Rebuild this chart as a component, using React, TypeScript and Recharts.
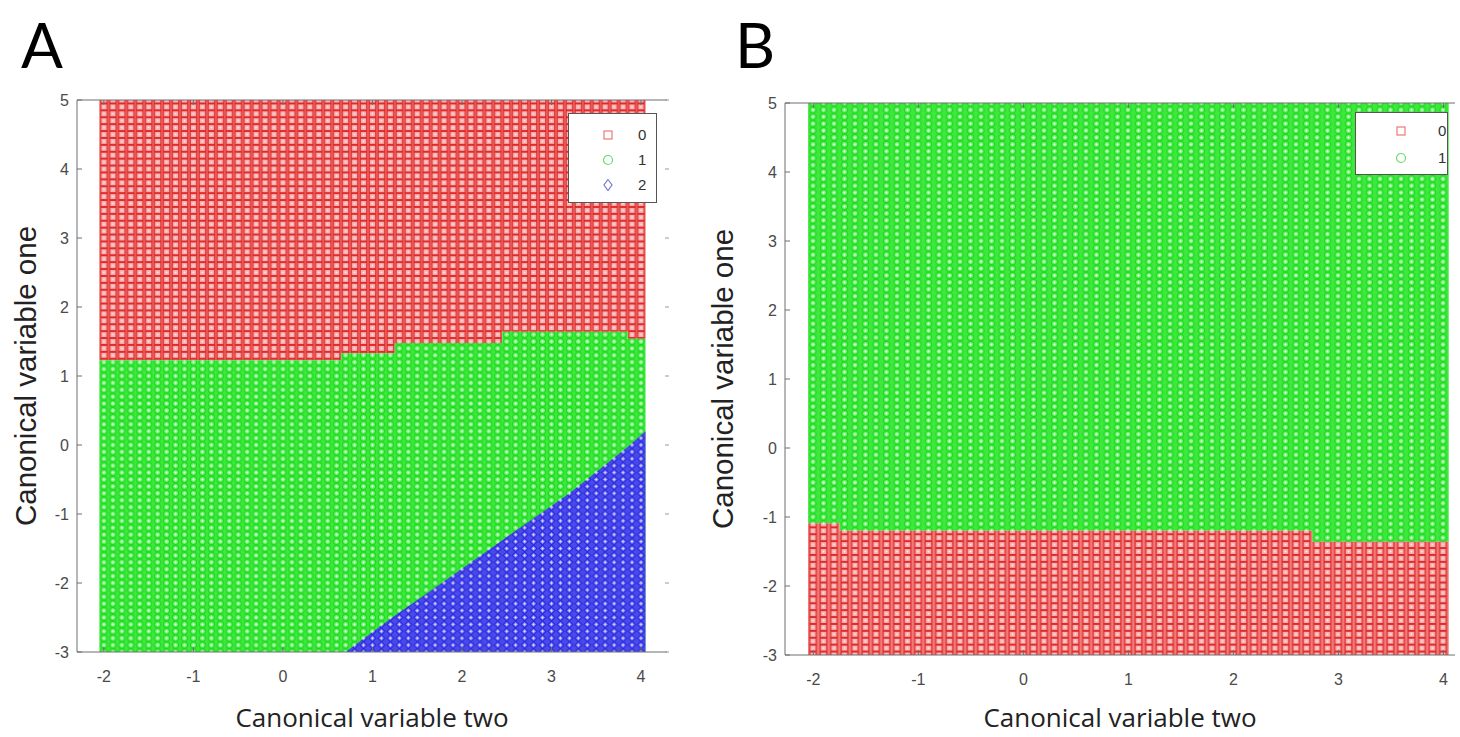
import { ComposedChart, Area, XAxis, YAxis, Legend } from "recharts";

const FONT = '"Liberation Sans", Arial, sans-serif';
const TITLE_FONT = '"Open Sans", Lato, sans-serif';
const AXIS = "#6e6e6e";
const TEXT = "#4a4a4a";

const X_TICKS = [-2, -1, 0, 1, 2, 3, 4];
const Y_TICKS = [-3, -2, -1, 0, 1, 2, 3, 4, 5];
const GRID_TOP = 5;
const GRID_BOTTOM = -3;

// panel A: class boundaries along canonical variable two
const A_X = [-2.05, 0.65, 0.7, 1.25, 1.5, 2.45, 3.2, 3.85, 4.05];
const A_EDGE_01 = [1.23, 1.33, 1.33, 1.48, 1.48, 1.64, 1.64, 1.54, 1.54];
const A_EDGE_12 = [null, null, -3.0, -2.47, -2.25, -1.38, -0.7, -0.03, 0.2];
const A_CLASSES = ["0", "1", "2"];

// panel B
const B_X = [-2.05, -1.75, 2.75, 4.05];
const B_EDGE_01 = [-1.09, -1.2, -1.36, -1.36];
const B_CLASSES = ["0", "1"];

const aRows = A_X.map((x, i) => ({
  x,
  zero: [A_EDGE_01[i], GRID_TOP],
  one: [GRID_BOTTOM, A_EDGE_01[i]],
  two: A_EDGE_12[i] === null ? null : [GRID_BOTTOM, A_EDGE_12[i]],
}));

const bRows = B_X.map((x, i) => ({
  x,
  zero: [GRID_BOTTOM, B_EDGE_01[i]],
  one: [B_EDGE_01[i], GRID_TOP],
}));

const TICK = 5;

function BottomTick({ x, y, payload }: any) {
  return (
    <g>
      <line x1={x} x2={x} y1={y} y2={y - TICK} stroke={AXIS} />
      <text x={x} y={y + 30} textAnchor="middle" fontSize={16} fontFamily={FONT} fill={TEXT}>
        {payload.value}
      </text>
    </g>
  );
}

function TopTick({ x, y }: any) {
  return <line x1={x} x2={x} y1={y} y2={y + TICK} stroke={AXIS} />;
}

function LeftTick({ x, y, payload }: any) {
  return (
    <g>
      <line x1={x} x2={x + TICK} y1={y} y2={y} stroke={AXIS} />
      <text x={x - 8} y={y + 6} textAnchor="end" fontSize={16} fontFamily={FONT} fill={TEXT}>
        {payload.value}
      </text>
    </g>
  );
}

function RightTick({ x, y }: any) {
  return <line x1={x - 2} x2={x + 2} y1={y} y2={y} stroke="#999" />;
}

function Marker({ kind }: { kind: number }) {
  if (kind === 0) return <rect x={2} y={2} width={8} height={8} fill="none" stroke="#e77" strokeWidth={1.2} />;
  if (kind === 1) return <circle cx={6} cy={6} r={4.5} fill="none" stroke="#6d6" strokeWidth={1.2} />;
  return <path d="M6 0.5 L10 6 L6 11.5 L2 6 Z" fill="none" stroke="#77d" strokeWidth={1.2} />;
}

function ClassKey({ labels, w, h, rowH, padTop, markX, textX }: any) {
  return (
    <div
      style={{
        position: "relative",
        width: w,
        height: h,
        boxSizing: "border-box",
        border: "1px solid #555",
        background: "#fff",
        fontFamily: FONT,
        fontSize: 15,
        color: "#333",
      }}
    >
      {labels.map((l: string, i: number) => (
        <div key={l} style={{ position: "absolute", left: 0, top: padTop + i * rowH, width: w, height: rowH }}>
          <svg width={12} height={12} style={{ position: "absolute", left: markX - 6, top: rowH / 2 - 6 }}>
            <Marker kind={i} />
          </svg>
          <span style={{ position: "absolute", left: textX - 5, top: rowH / 2 - 9, lineHeight: "18px" }}>{l}</span>
        </div>
      ))}
    </div>
  );
}

function Patterns({ id, cw, ch, ox, oy, three }: any) {
  const cx = cw / 2;
  const cy = ch / 2;
  return (
    <defs>
      <pattern id={`red${id}`} patternUnits="userSpaceOnUse" width={cw} height={ch} x={ox} y={oy}>
        <rect width={cw} height={ch} fill="#f07a7a" />
        <rect x={cx - 3.3} y={cy - 3.1} width={6.6} height={6.2} fill="#f8b0b0" stroke="#de2626" strokeWidth={1.2} />
        <rect x={cx - 0.8} y={cy - 0.8} width={1.6} height={1.6} fill="#fde8e8" />
      </pattern>
      <pattern id={`green${id}`} patternUnits="userSpaceOnUse" width={cw} height={ch} x={ox} y={oy}>
        <rect width={cw} height={ch} fill="#3ee83e" />
        <circle cx={cx} cy={cy} r={3.1} fill="#7cf07c" stroke="#1cdc1c" strokeWidth={1.3} />
        <circle cx={cx} cy={cy} r={1} fill="#e8ffe8" />
      </pattern>
      {three && (
        <pattern id={`blue${id}`} patternUnits="userSpaceOnUse" width={cw} height={ch} x={ox} y={oy}>
          <rect width={cw} height={ch} fill="#4a4aea" />
          <path
            d={`M${cx} ${cy - 3.4} L${cx + 3.4} ${cy} L${cx} ${cy + 3.4} L${cx - 3.4} ${cy} Z`}
            fill="#8c8cf2"
            stroke="#2626e2"
            strokeWidth={1.2}
          />
          <circle cx={cx} cy={cy} r={0.9} fill="#f0f0ff" />
        </pattern>
      )}
    </defs>
  );
}

const yTitle = (offset: number) => ({
  value: "Canonical variable one",
  angle: -90,
  position: "insideLeft" as const,
  offset,
  style: { textAnchor: "middle", fontSize: 29.5, fontFamily: FONT, fill: "#222" },
});

const xTitle = (offset: number) => ({
  value: "Canonical variable two",
  position: "insideBottom" as const,
  offset,
  style: { textAnchor: "middle", fontSize: 26, fontFamily: TITLE_FONT, fill: "#222" },
});

function PanelA() {
  return (
    <ComposedChart width={700} height={737} data={aRows} margin={{ top: 90, left: 27, right: 23, bottom: 0 }}>
      <Patterns id="A" cw={8.95} ch={6.9} ox={99.5} oy={648.55} three />
      <XAxis
        dataKey="x"
        type="number"
        domain={[-2.3, 4.29]}
        allowDataOverflow
        ticks={X_TICKS}
        height={85}
        tickSize={0}
        tickMargin={0}
        axisLine={{ stroke: AXIS }}
        tickLine={false}
        tick={<BottomTick />}
        label={xTitle(10)}
      />
      <XAxis
        xAxisId="top"
        orientation="top"
        dataKey="x"
        type="number"
        domain={[-2.3, 4.29]}
        allowDataOverflow
        ticks={X_TICKS}
        height={10}
        tickSize={0}
        tickMargin={0}
        axisLine={{ stroke: AXIS }}
        tickLine={false}
        tick={<TopTick />}
      />
      <YAxis
        type="number"
        domain={[GRID_BOTTOM, GRID_TOP]}
        allowDataOverflow
        ticks={Y_TICKS}
        width={50}
        tickSize={0}
        tickMargin={0}
        axisLine={{ stroke: AXIS }}
        tickLine={false}
        tick={<LeftTick />}
        label={yTitle(-1)}
      />
      <YAxis
        yAxisId="right"
        orientation="right"
        type="number"
        domain={[GRID_BOTTOM, GRID_TOP]}
        allowDataOverflow
        ticks={Y_TICKS}
        width={10}
        tickSize={0}
        tickMargin={0}
        axisLine={false}
        tickLine={false}
        tick={<RightTick />}
      />
      <Area dataKey="zero" type="stepAfter" fill="url(#redA)" fillOpacity={1} stroke="none" dot={false} activeDot={false} isAnimationActive={false} />
      <Area dataKey="one" type="stepAfter" fill="url(#greenA)" fillOpacity={1} stroke="none" dot={false} activeDot={false} isAnimationActive={false} />
      <Area dataKey="two" type="linear" fill="url(#blueA)" fillOpacity={1} stroke="none" dot={false} activeDot={false} isAnimationActive={false} />
      <Legend
        layout="vertical"
        align="center"
        verticalAlign="middle"
        wrapperStyle={{ left: 568, top: 113, width: 89, height: 90 }}
        content={() => <ClassKey labels={A_CLASSES} w={89} h={90} rowH={25} padTop={8} markX={39} textX={74} />}
      />
    </ComposedChart>
  );
}

function PanelB() {
  return (
    <ComposedChart width={760} height={737} data={bRows} margin={{ top: 93, left: 35, right: 5, bottom: 0 }}>
      <Patterns id="B" cw={10.5} ch={6.9} ox={107.75} oy={651.55} />
      <XAxis
        dataKey="x"
        type="number"
        domain={[-2.27, 4.11]}
        allowDataOverflow
        ticks={X_TICKS}
        height={82}
        tickSize={0}
        tickMargin={0}
        axisLine={{ stroke: AXIS }}
        tickLine={false}
        tick={<BottomTick />}
        label={xTitle(10)}
      />
      <XAxis
        xAxisId="top"
        orientation="top"
        dataKey="x"
        type="number"
        domain={[-2.27, 4.11]}
        allowDataOverflow
        ticks={X_TICKS}
        height={10}
        tickSize={0}
        tickMargin={0}
        axisLine={{ stroke: AXIS }}
        tickLine={false}
        tick={<TopTick />}
      />
      <YAxis
        type="number"
        domain={[GRID_BOTTOM, GRID_TOP]}
        allowDataOverflow
        ticks={Y_TICKS}
        width={50}
        tickSize={0}
        tickMargin={0}
        axisLine={{ stroke: AXIS }}
        tickLine={false}
        tick={<LeftTick />}
        label={yTitle(-12)}
      />
      <Area dataKey="one" type="stepAfter" fill="url(#greenB)" fillOpacity={1} stroke="none" dot={false} activeDot={false} isAnimationActive={false} />
      <Area dataKey="zero" type="stepAfter" fill="url(#redB)" fillOpacity={1} stroke="none" dot={false} activeDot={false} isAnimationActive={false} />
      <Legend
        layout="vertical"
        align="center"
        verticalAlign="middle"
        wrapperStyle={{ left: 655, top: 112, width: 93, height: 63 }}
        content={() => <ClassKey labels={B_CLASSES} w={93} h={63} rowH={27} padTop={4} markX={45} textX={87} />}
      />
    </ComposedChart>
  );
}

export default function App() {
  const letter = { position: "absolute" as const, top: 9, fontFamily: 'Lato, "Open Sans", sans-serif', fontSize: 62, color: "#000", lineHeight: "70px" };
  return (
    <div style={{ position: "absolute", left: 0, top: 0, width: 1460, height: 737, background: "#fff", overflow: "hidden" }}>
      <div style={{ ...letter, left: 21 }}>A</div>
      <div style={{ ...letter, left: 735 }}>B</div>
      <div style={{ position: "absolute", left: 0, top: 0 }}>
        <PanelA />
      </div>
      <div style={{ position: "absolute", left: 700, top: 0 }}>
        <PanelB />
      </div>
    </div>
  );
}
